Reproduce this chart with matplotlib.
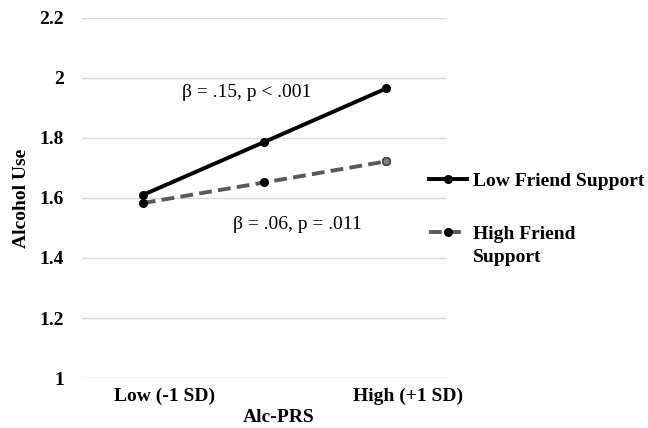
import matplotlib.pyplot as plt
from matplotlib.transforms import ScaledTranslation

plt.rcParams['font.family'] = ['Liberation Serif', 'DejaVu Serif']

# data
categories = ['Low (-1 SD)', '', 'High (+1 SD)']
low_support = [1.61, 1.787, 1.965]
high_support = [1.583, 1.652, 1.722]
yticks = [1, 1.2, 1.4, 1.6, 1.8, 2, 2.2]
ytick_labels = ['1', '1.2', '1.4', '1.6', '1.8', '2', '2.2']

fig = plt.figure(figsize=(6.48, 4.28), dpi=100)
ax = fig.add_axes([0.1265, 0.1168, 0.5633, 0.8412])

x = list(range(len(categories)))

ax.plot(x, low_support, color='black', linewidth=2.8, marker='o', markersize=5.5,
        label='Low Friend Support', zorder=3)
ax.plot(x, high_support, color='#595959', linewidth=2.8, linestyle=(0, (3.3, 1.6)),
        marker='o', markersize=5.5, markerfacecolor='black', markeredgecolor='black',
        label='High Friend', zorder=3)
# last point of the dashed series drawn grey
ax.plot(x[-1], high_support[-1], marker='o', markersize=5.5, color='#7f7f7f',
        markeredgecolor='#404040', zorder=4)

ax.set_xlim(-0.5, 2.5)
ax.set_ylim(1, 2.2)
ax.set_yticks(yticks)
ax.set_yticklabels(ytick_labels)
ax.set_xticks(x)
ax.set_xticklabels(categories)
ax.grid(axis='y', color='#d9d9d9', linewidth=1)
ax.set_axisbelow(True)
for s in ax.spines.values():
    s.set_visible(False)
ax.tick_params(axis='y', length=0, labelsize=14, pad=13)
ax.tick_params(axis='x', length=0, labelsize=14, pad=7)
shift = ScaledTranslation(0.22, 0, fig.dpi_scale_trans)
for t in ax.get_xticklabels():
    t.set_fontweight('bold')
    t.set_transform(t.get_transform() + shift)
for t in ax.get_yticklabels():
    t.set_fontweight('bold')

ax.set_ylabel('Alcohol Use', fontsize=14, fontweight='bold', labelpad=7)
ax.set_xlabel('Alc-PRS', fontsize=14, fontweight='bold', labelpad=3)
ax.xaxis.label.set_transform(ax.xaxis.label.get_transform()
                             + ScaledTranslation(0.14, 0, fig.dpi_scale_trans))

ax.text(0.85, 1.953, 'β = .15, p < .001', fontsize=14, ha='center', va='center')
ax.text(1.27, 1.51, 'β = .06, p = .011', fontsize=14, ha='center', va='center')

leg = ax.legend(loc='upper left', bbox_to_anchor=(0.951, 0.571), frameon=False,
                prop={'weight': 'bold', 'size': 14}, handlelength=1.95,
                handletextpad=0.3, labelspacing=1.8, borderpad=0, borderaxespad=0)
fig.text(473 / 648, 1 - 257 / 428, 'Support', fontsize=14, fontweight='bold',
         ha='left', va='center')

fig.savefig('out.png', dpi=100)
